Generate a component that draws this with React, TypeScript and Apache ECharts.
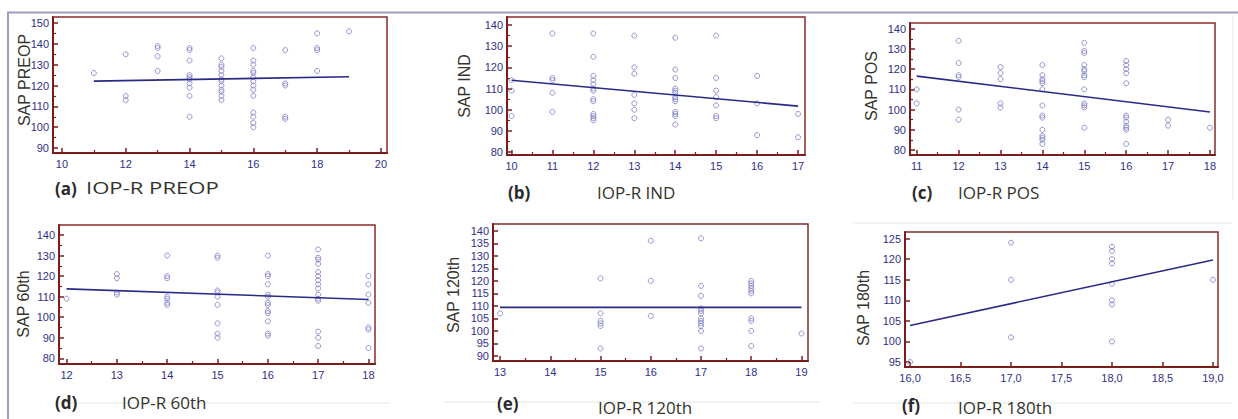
import React, { useEffect, useRef } from "react";
import * as echarts from "echarts";

// ---------- DATA ----------
// (a) PREOP
const preopX = [11, 12, 13, 14, 15, 16, 17, 18, 19];
const preopY = [
  [126],
  [135, 115, 113],
  [139, 138, 134, 127],
  [138, 137, 132, 125, 124, 123, 121, 119, 115, 105],
  [133, 130, 129, 127, 125, 123, 122, 120, 118, 117, 115, 113],
  [138, 132, 130, 127, 126, 124, 122, 120, 118, 115, 107, 105, 102, 100],
  [137, 121, 120, 105, 104],
  [145, 138, 137, 127],
  [146],
];
const preopFitX = [11, 19];
const preopFitY = [122.1, 124.2];
const preopXTicks = [10, 12, 14, 16, 18, 20];
const preopXMinor = [11, 13, 15, 17, 19];
const preopYTicks = [90, 100, 110, 120, 130, 140, 150];
const preopYMinor = [95, 105, 115, 125, 135, 145];

// (b) IND
const indX = [10, 11, 12, 13, 14, 15, 16, 17];
const indY = [
  [114, 109, 97],
  [136, 115, 114, 108, 99],
  [136, 125, 116, 114, 112, 110, 109, 105, 104, 98, 97, 96, 95],
  [135, 120, 117, 107, 103, 100, 96],
  [134, 119, 115, 110, 109, 108, 106, 105, 104, 99, 98, 97, 93],
  [135, 115, 109, 106, 102, 97, 96],
  [116, 103, 88],
  [98, 87],
];
const indFitX = [10, 17];
const indFitY = [113.9, 101.7];
const indXTicks = [10, 11, 12, 13, 14, 15, 16, 17];
const indXMinor = [10.5, 11.5, 12.5, 13.5, 14.5, 15.5, 16.5];
const indYTicks = [80, 90, 100, 110, 120, 130, 140];
const indYMinor = [85, 95, 105, 115, 125, 135];

// (c) POS
const posX = [11, 12, 13, 14, 15, 16, 17, 18];
const posY = [
  [110, 103],
  [134, 123, 117, 116, 100, 95],
  [121, 118, 115, 103, 101],
  [122, 117, 115, 114, 113, 110, 102, 97, 96, 90, 87, 86, 85, 83],
  [133, 129, 128, 122, 120, 119, 117, 116, 110, 103, 102, 101, 91],
  [124, 122, 120, 118, 113, 97, 96, 94, 92, 91, 90, 83],
  [95, 92],
  [91],
];
const posFitX = [11, 18];
const posFitY = [116.5, 98.8];
const posXTicks = [11, 12, 13, 14, 15, 16, 17, 18];
const posXMinor = [11.5, 12.5, 13.5, 14.5, 15.5, 16.5, 17.5];
const posYTicks = [80, 90, 100, 110, 120, 130, 140];
const posYMinor = [85, 95, 105, 115, 125, 135];

// (d) 60th
const d60X = [12, 13, 14, 15, 16, 17, 18];
const d60Y = [
  [109],
  [121, 119, 112, 111],
  [130, 120, 119, 110, 109, 107, 106],
  [130, 129, 113, 112, 110, 106, 97, 92, 90],
  [130, 121, 120, 116, 111, 110, 107, 106, 103, 102, 98, 92, 91],
  [133, 129, 128, 126, 122, 120, 118, 116, 114, 111, 109, 108, 93, 90, 86],
  [120, 116, 111, 107, 95, 94, 85],
];
const d60FitX = [12, 18];
const d60FitY = [113.8, 108.6];
const d60XTicks = [12, 13, 14, 15, 16, 17, 18];
const d60XMinor = [12.5, 13.5, 14.5, 15.5, 16.5, 17.5];
const d60YTicks = [80, 90, 100, 110, 120, 130, 140];
const d60YMinor = [85, 95, 105, 115, 125, 135];

// (e) 120th
const d120X = [13, 15, 16, 17, 18, 19];
const d120Y = [
  [107],
  [121, 107, 104, 103, 102, 93],
  [136, 120, 106],
  [137, 118, 114, 109, 108, 107, 105, 104, 103, 102, 100, 93],
  [120, 119, 118, 117, 116, 115, 105, 104, 100, 94],
  [99],
];
const d120FitX = [13, 19];
const d120FitY = [109.4, 109.4];
const d120XTicks = [13, 14, 15, 16, 17, 18, 19];
const d120XMinor = [13.5, 14.5, 15.5, 16.5, 17.5, 18.5];
const d120YTicks = [90, 95, 100, 105, 110, 115, 120, 125, 130, 135, 140];
const d120YMinor: number[] = [];

// (f) 180th
const d180X = [16, 17, 18, 19];
const d180Y = [
  [95],
  [124, 115, 101],
  [123, 122, 120, 119, 114, 110, 109, 100],
  [115],
];
const d180FitX = [16, 19];
const d180FitY = [103.9, 119.8];
const d180XTicks = [16, 16.5, 17, 17.5, 18, 18.5, 19];
const d180XMinor: number[] = [];
const d180YTicks = [95, 100, 105, 110, 115, 120, 125];
const d180YMinor: number[] = [];

// ---------- STYLE ----------
const FRAME = "#8a2a2a";
const AXIS = "#7a1c1c";
const LABEL = "#30308a";
const POINT = "#7c7cc6";
const FITLINE = "#2a2a86";
const TITLE = "#35332c";

const intFmt = (v: number) => String(v);
const commaFmt = (v: number) => v.toFixed(1).replace(".", ",");

const panels = [
  {
    xs: preopX, ys: preopY, fitX: preopFitX, fitY: preopFitY,
    xTicks: preopXTicks, xMinor: preopXMinor, yTicks: preopYTicks, yMinor: preopYMinor,
    xr: [9.72, 20.19], yr: [87.6, 152.9], fmt: intFmt,
    grid: { left: 53, top: 17, width: 334, height: 136 },
    yTitle: "SAP PREOP", yTitlePos: [24, 80],
    tag: "(a)", tagPos: [55, 188], xTitle: "IOP-R PREOP", xTitlePos: [86, 188], xTitleScale: 1.3,
  },
  {
    xs: indX, ys: indY, fitX: indFitX, fitY: indFitY,
    xTicks: indXTicks, xMinor: indXMinor, yTicks: indYTicks, yMinor: indYMinor,
    xr: [9.89, 17.17], yr: [78.6, 143.8], fmt: intFmt,
    grid: { left: 507, top: 17, width: 298, height: 138 },
    yTitle: "SAP IND", yTitlePos: [464, 86],
    tag: "(b)", tagPos: [508, 192], xTitle: "IOP-R IND", xTitlePos: [597, 192], xTitleScale: 1,
  },
  {
    xs: posX, ys: posY, fitX: posFitX, fitY: posFitY,
    xTicks: posXTicks, xMinor: posXMinor, yTicks: posYTicks, yMinor: posYMinor,
    xr: [10.84, 18.12], yr: [77.5, 142.8], fmt: intFmt,
    grid: { left: 910, top: 23, width: 305, height: 132 },
    yTitle: "SAP POS", yTitlePos: [871, 86],
    tag: "(c)", tagPos: [912, 192], xTitle: "IOP-R POS", xTitlePos: [958, 192], xTitleScale: 1,
  },
  {
    xs: d60X, ys: d60Y, fitX: d60FitX, fitY: d60FitY,
    xTicks: d60XTicks, xMinor: d60XMinor, yTicks: d60YTicks, yMinor: d60YMinor,
    xr: [11.85, 18.13], yr: [77.2, 144.9], fmt: intFmt,
    grid: { left: 59, top: 225, width: 316, height: 139 },
    yTitle: "SAP 60th", yTitlePos: [23, 304],
    tag: "(d)", tagPos: [55, 402], xTitle: "IOP-R 60th", xTitlePos: [122, 402], xTitleScale: 1,
  },
  {
    xs: d120X, ys: d120Y, fitX: d120FitX, fitY: d120FitY,
    xTicks: d120XTicks, xMinor: d120XMinor, yTicks: d120YTicks, yMinor: d120YMinor,
    xr: [12.86, 19.13], yr: [88, 142.7], fmt: intFmt,
    grid: { left: 493, top: 224, width: 315, height: 137 },
    yTitle: "SAP 120th", yTitlePos: [453, 295],
    tag: "(e)", tagPos: [497, 403], xTitle: "IOP-R 120th", xTitlePos: [598, 407], xTitleScale: 1,
  },
  {
    xs: d180X, ys: d180Y, fitX: d180FitX, fitY: d180FitY,
    xTicks: d180XTicks, xMinor: d180XMinor, yTicks: d180YTicks, yMinor: d180YMinor,
    xr: [15.95, 19.05], yr: [93.8, 126.6], fmt: commaFmt,
    grid: { left: 905, top: 232, width: 313, height: 135 },
    yTitle: "SAP 180th", yTitlePos: [863, 308],
    tag: "(f)", tagPos: [902, 405], xTitle: "IOP-R 180th", xTitlePos: [958, 407], xTitleScale: 1,
  },
];

function buildOption() {
  const grids: any[] = [];
  const xAxes: any[] = [];
  const yAxes: any[] = [];
  const series: any[] = [];
  const graphics: any[] = [];

  // outer figure frame
  graphics.push({
    type: "polyline",
    silent: true,
    shape: { points: [[8, 419], [8, 12.5], [1238, 12.5]] },
    style: { stroke: "#9d9dc2", lineWidth: 2, fill: null },
  });
  // faint separator lines
  const faint = [
    [[55, 403], [390, 403]],
    [[443, 402], [820, 402]],
    [[853, 223], [1232, 223]],
    [[853, 403], [1232, 403]],
    [[1233, 15], [1233, 200]],
  ];
  faint.forEach((pts) =>
    graphics.push({
      type: "polyline",
      silent: true,
      shape: { points: pts },
      style: { stroke: "#e6e6e6", lineWidth: 1, fill: null },
    })
  );

  panels.forEach((p, gi) => {
    grids.push({
      ...p.grid,
      show: true,
      borderColor: FRAME,
      borderWidth: 1.5,
      backgroundColor: "transparent",
      containLabel: false,
    });

    const labelStyle = {
      color: LABEL,
      fontSize: 11,
      fontFamily: "Liberation Sans, Arial, sans-serif",
    };

    xAxes.push({
      type: "value",
      gridIndex: gi,
      position: "bottom",
      min: p.xr[0],
      max: p.xr[1],
      splitLine: { show: false },
      axisLine: { show: true, onZero: false, lineStyle: { color: AXIS, width: 2 } },
      axisTick: {
        show: true,
        inside: true,
        length: 5,
        customValues: p.xTicks,
        lineStyle: { color: AXIS, width: 1.5 },
      },
      axisLabel: {
        show: true,
        customValues: p.xTicks,
        formatter: p.fmt,
        margin: 5,
        ...labelStyle,
      },
    });
    xAxes.push({
      type: "value",
      gridIndex: gi,
      position: "bottom",
      min: p.xr[0],
      max: p.xr[1],
      splitLine: { show: false },
      axisLine: { show: false, onZero: false },
      axisLabel: { show: false },
      axisTick: p.xMinor.length
        ? { show: true, inside: true, length: 3, customValues: p.xMinor, lineStyle: { color: AXIS, width: 1.2 } }
        : { show: false },
    });

    yAxes.push({
      type: "value",
      gridIndex: gi,
      position: "left",
      min: p.yr[0],
      max: p.yr[1],
      splitLine: { show: false },
      axisLine: { show: true, onZero: false, lineStyle: { color: AXIS, width: 2 } },
      axisTick: {
        show: true,
        inside: true,
        length: 5,
        customValues: p.yTicks,
        lineStyle: { color: AXIS, width: 1.5 },
      },
      axisLabel: {
        show: true,
        customValues: p.yTicks,
        formatter: intFmt,
        margin: 4,
        ...labelStyle,
      },
    });
    yAxes.push({
      type: "value",
      gridIndex: gi,
      position: "left",
      min: p.yr[0],
      max: p.yr[1],
      splitLine: { show: false },
      axisLine: { show: false, onZero: false },
      axisLabel: { show: false },
      axisTick: p.yMinor.length
        ? { show: true, inside: true, length: 3, customValues: p.yMinor, lineStyle: { color: AXIS, width: 1.2 } }
        : { show: false },
    });

    const pts: number[][] = [];
    p.xs.forEach((x, i) => p.ys[i].forEach((y) => pts.push([x, y])));

    series.push({
      type: "scatter",
      xAxisIndex: gi * 2,
      yAxisIndex: gi * 2,
      data: pts,
      symbol: "circle",
      symbolSize: 5,
      itemStyle: { color: "rgba(255,255,255,0)", borderColor: POINT, borderWidth: 1 },
      silent: true,
      z: 3,
    });
    series.push({
      type: "line",
      xAxisIndex: gi * 2,
      yAxisIndex: gi * 2,
      data: p.fitX.map((x, i) => [x, p.fitY[i]]),
      symbol: "none",
      lineStyle: { color: FITLINE, width: 1.6 },
      silent: true,
      z: 4,
    });

    graphics.push({
      type: "text",
      x: p.yTitlePos[0],
      y: p.yTitlePos[1],
      rotation: Math.PI / 2,
      silent: true,
      style: {
        text: p.yTitle,
        align: "center",
        verticalAlign: "middle",
        fill: TITLE,
        font: "16px 'Liberation Sans', Arial, sans-serif",
      },
    });
    graphics.push({
      type: "text",
      x: p.tagPos[0],
      y: p.tagPos[1],
      silent: true,
      style: {
        text: p.tag,
        align: "left",
        verticalAlign: "middle",
        fill: "#2a2a2a",
        font: "bold 17px 'Open Sans', sans-serif",
      },
    });
    graphics.push({
      type: "text",
      x: p.xTitlePos[0],
      y: p.xTitlePos[1],
      scaleX: p.xTitleScale,
      silent: true,
      style: {
        text: p.xTitle,
        align: "left",
        verticalAlign: "middle",
        fill: TITLE,
        font: "17px 'Open Sans', sans-serif",
      },
    });
  });

  return {
    animation: false,
    backgroundColor: "#ffffff",
    grid: grids,
    xAxis: xAxes,
    yAxis: yAxes,
    series,
    graphic: graphics,
  };
}

export default function App() {
  const ref = useRef<HTMLDivElement>(null);
  useEffect(() => {
    if (!ref.current) return;
    const chart = echarts.init(ref.current, undefined, { renderer: "svg" });
    chart.setOption(buildOption() as any);
    return () => chart.dispose();
  }, []);
  return (
    <div
      ref={ref}
      style={{ position: "absolute", left: 0, top: 0, width: 1238, height: 419, background: "#fff" }}
    />
  );
}
